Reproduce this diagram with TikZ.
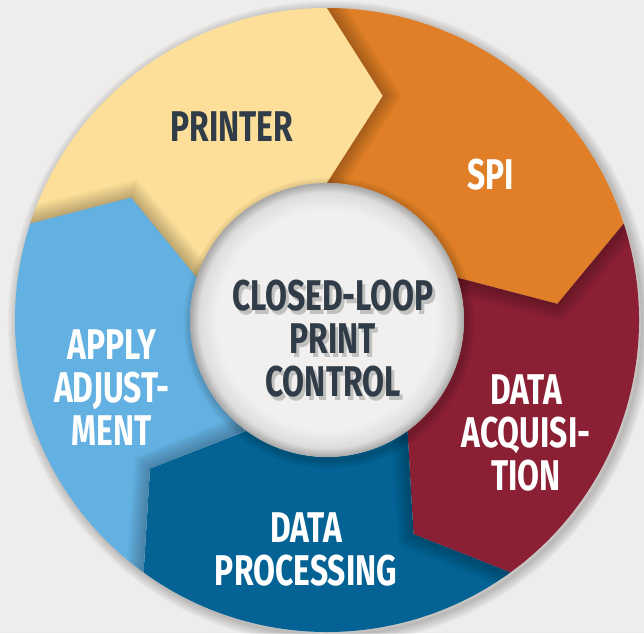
\documentclass[tikz,border=0pt]{standalone}
\usepackage{fontspec}
\setmainfont{Fira Sans}[FakeStretch=0.74]
\definecolor{bg}{HTML}{EEEDEB}
\definecolor{cyel}{HTML}{FDDF99}
\definecolor{cora}{HTML}{E07F27}
\definecolor{cred}{HTML}{8B2035}
\definecolor{cdb}{HTML}{046394}
\definecolor{clb}{HTML}{63B1E2}
\definecolor{dtext}{HTML}{303C48}
\definecolor{discin}{HTML}{F1F0EE}
\definecolor{discmid}{HTML}{DEDDDB}
\definecolor{discout}{HTML}{A6A6A6}
\pgfdeclareradialshading{discshade}{\pgfpoint{0bp}{0bp}}{color(0bp)=(discin); color(20bp)=(discin); color(23.3bp)=(discmid); color(25bp)=(discout); color(50bp)=(discout)}
\tikzset{
  lbl/.style={font=\bfseries\fontsize{43}{43}\selectfont, align=center, text=white, inner sep=0pt},
  dlbl/.style={lbl, text=dtext},
  shd/.style={black, opacity=0.03}
}
\begin{document}
\begin{tikzpicture}[x=1pt,y=1pt]
\useasboundingbox (-327,-313) rectangle (317,320);
\fill[bg] (-327,-313) rectangle (317,320);
% outer drop shadow
\foreach \w in {2,5,...,20} {\draw[shd, line width=\w pt] (3,-3) circle[radius=312];}
% ring segments
\foreach \s/\e/\c in {162/90/cyel, 90/18/cora, 18/-54/cred, -54/-126/cdb, -126/-198/clb} {
  \fill[\c] (\s:312) arc[start angle=\s, end angle=\e, radius=312] -- ({\e-14}:231) -- (\e:137) arc[start angle=\e, end angle=\s, radius=137] -- ({\s-14}:231) -- cycle;
}
% shadows cast by the arrow tips
\foreach \b in {162,90,18,-54,-126} {
  \begin{scope}
    \clip (\b:312) arc[start angle=\b, end angle=\b-72, radius=312] -- ({\b-86}:231) -- ({\b-72}:137) arc[start angle=\b-72, end angle=\b, radius=137] -- ({\b-14}:231) -- cycle;
    \foreach \w in {4,8,...,32} {\draw[shd, opacity=0.03, line width=\w pt, line join=miter] (\b:314) -- ({\b-14}:231) -- (\b:135);}
  \end{scope}
}
% centre disc
\foreach \w in {2,5,...,17} {\draw[shd, line width=\w pt] (2,-3) circle[radius=137];}
\path[shading=discshade] (0,0) circle[radius=137];
% labels
\node[dlbl] (printer) at (-95,193) {PRINTER};
\node[lbl] (spi) at (164,145) {SPI};
\node[lbl] (apply) at (-215,-68) {APPLY\\ADJUST-\\MENT};
\node[lbl] (acq) at (199,-113) {DATA\\ACQUISI-\\TION};
\node[lbl] (proc) at (-21,-229) {DATA\\PROCESSING};
\node[lbl, text=black, opacity=0.2] (ctrlshadow) at (9,-23) {CLOSED-LOOP\\PRINT\\CONTROL};
\node[dlbl] (ctrl) at (6,-19) {CLOSED-LOOP\\PRINT\\CONTROL};
\end{tikzpicture}
\end{document}
